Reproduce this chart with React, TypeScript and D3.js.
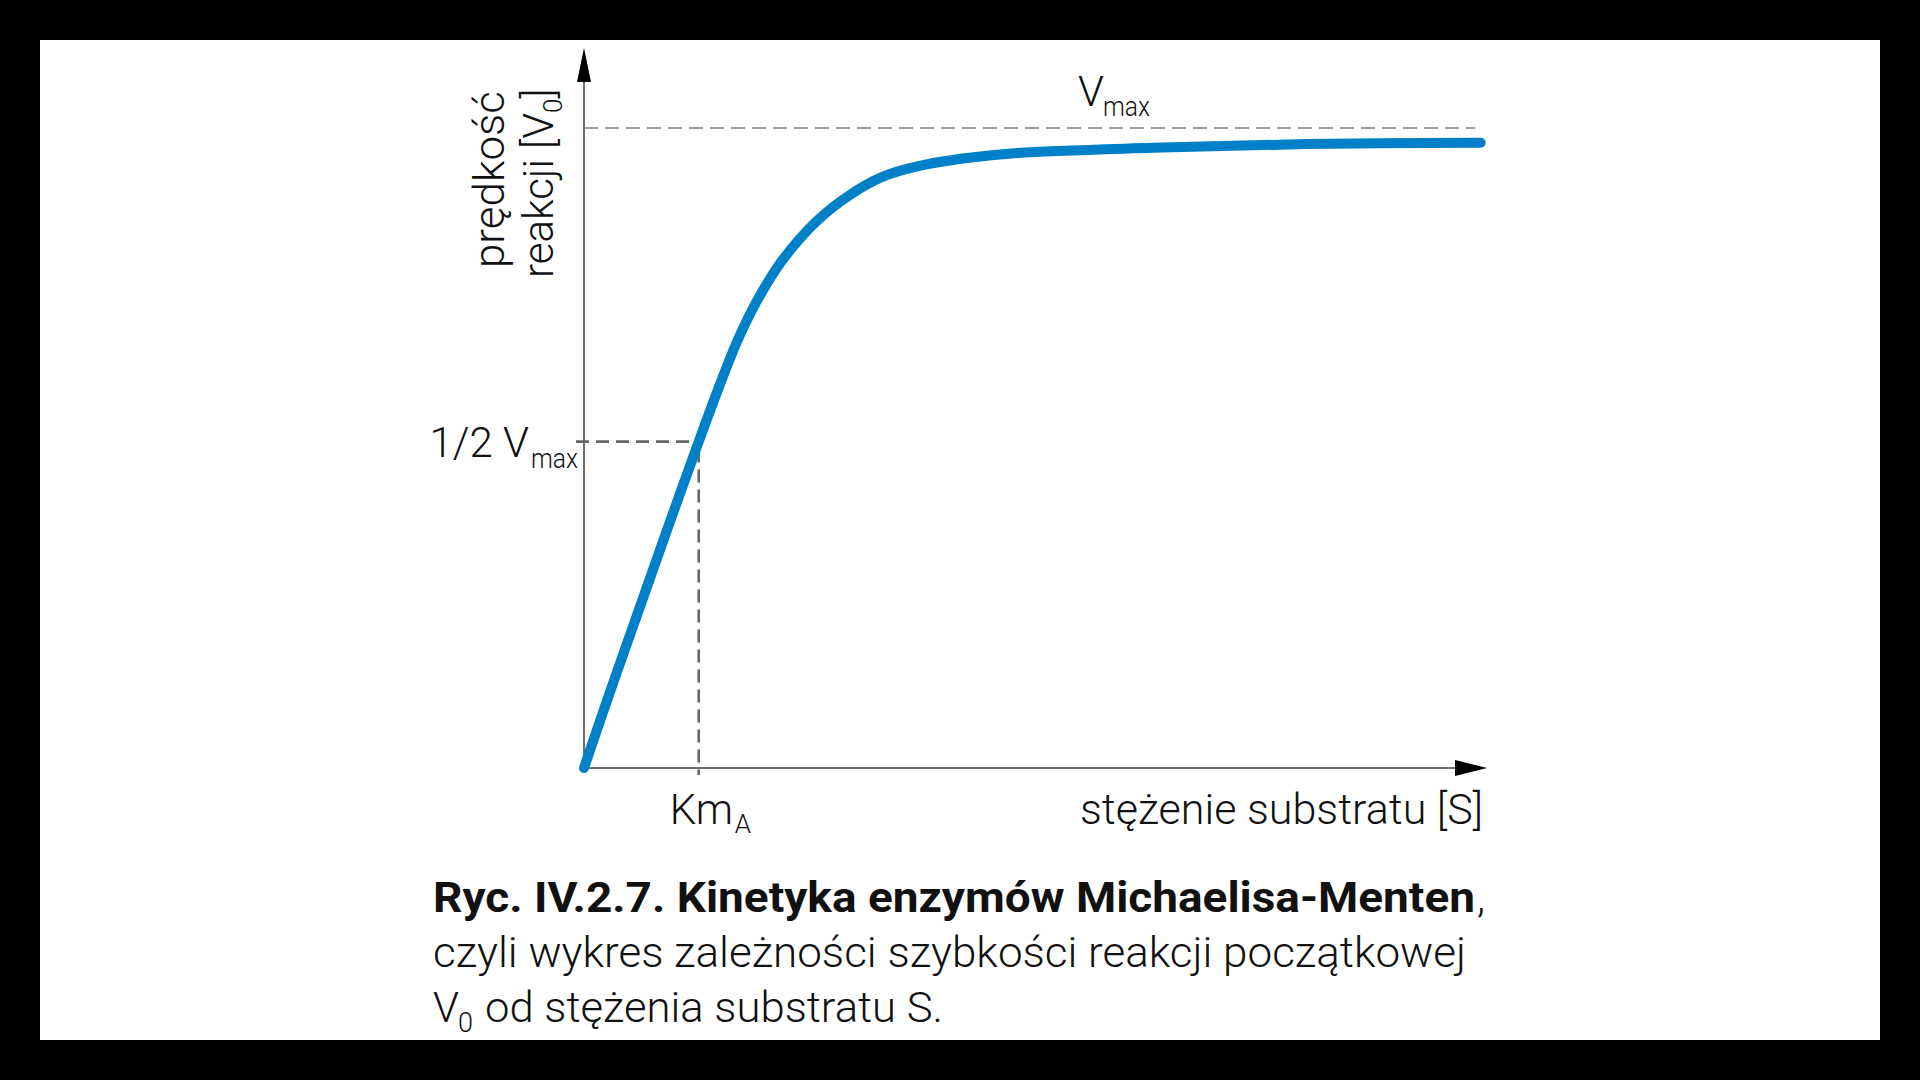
import React from "react";
import * as d3 from "d3";

// Substrate concentration [S] (arbitrary units, axis 0..100) and initial velocity V0 (fraction of Vmax)
const substrate = [0, 3.2, 6.2, 9.2, 12.5, 15.1, 17.1, 19.2, 22.0, 25.8, 29.5, 33.1, 36.9, 42.4, 48.0, 63.0, 80.0, 99.3];
const velocity = [0, 0.132, 0.252, 0.372, 0.502, 0.601, 0.671, 0.731, 0.794, 0.855, 0.896, 0.924, 0.940, 0.953, 0.961, 0.969, 0.975, 0.977];

// Reference markers
const vmaxLevel = 1.0;
const halfVmaxLevel = 0.51;
const kmValue = 12.7;
const vmaxLineEnd = 98.7;

// Texts
const yLabelLines = ["prędkość", "reakcji [V"];
const xLabel = "stężenie substratu [S]";
const captionBold = "Ryc. IV.2.7. Kinetyka enzymów Michaelisa-Menten";
const captionLine2 = "czyli wykres zależności szybkości reakcji początkowej";
const captionLine3 = "od stężenia substratu S.";

const W = 1920;
const H = 1080;
const FONT = "'Roboto', 'Noto Sans', 'DejaVu Sans', sans-serif";

export default function App() {
  const x = d3.scaleLinear().domain([0, 100]).range([584, 1487]);
  const y = d3.scaleLinear().domain([0, 1]).range([768, 128]);

  const pts = substrate.map((s, i) => [s, velocity[i]] as [number, number]);
  const line = d3
    .line<[number, number]>()
    .x((d) => x(d[0]))
    .y((d) => y(d[1]))
    .curve(d3.curveCatmullRom.alpha(0.5));

  const x0 = x(0);
  const y0 = y(0);
  const xEnd = x(100);
  const yTop = 48;
  const axisColor = "#6e6e6e";

  return (
    <svg
      width={W}
      height={H}
      viewBox={`0 0 ${W} ${H}`}
      style={{ position: "absolute", left: 0, top: 0, display: "block" }}
    >
      <rect x={0} y={0} width={W} height={H} fill="#000" />
      <rect x={40} y={40} width={1840} height={1000} fill="#fff" />

      {/* Vmax dashed line */}
      <line
        x1={x0}
        x2={x(vmaxLineEnd)}
        y1={y(vmaxLevel)}
        y2={y(vmaxLevel)}
        stroke="#9c9c9c"
        strokeWidth={2}
        strokeDasharray="14 7"
      />

      {/* axes */}
      <line x1={x0} x2={xEnd - 30} y1={y0} y2={y0} stroke={axisColor} strokeWidth={2} />
      <path d={`M${xEnd},${y0} L${xEnd - 32},${y0 - 8} L${xEnd - 32},${y0 + 8} Z`} fill="#000" />
      <line x1={x0} x2={x0} y1={y0} y2={yTop + 30} stroke={axisColor} strokeWidth={2} />
      <path d={`M${x0},${yTop} L${x0 - 7},${yTop + 34} L${x0 + 7},${yTop + 34} Z`} fill="#000" />

      {/* half Vmax and Km guides */}
      <line
        x1={x0 - 8}
        x2={x(kmValue)}
        y1={y(halfVmaxLevel)}
        y2={y(halfVmaxLevel)}
        stroke="#666"
        strokeWidth={2.6}
        strokeDasharray="13 7"
      />
      <line
        x1={x(kmValue)}
        x2={x(kmValue)}
        y1={y(halfVmaxLevel) + 8}
        y2={y0 + 7}
        stroke="#666"
        strokeWidth={2.6}
        strokeDasharray="13 7"
      />

      {/* curve */}
      <path
        d={line(pts) || ""}
        fill="none"
        stroke="#0080c8"
        strokeWidth={10}
        strokeLinecap="round"
        strokeLinejoin="round"
      />

      {/* Vmax label */}
      <g fontFamily={FONT} fontWeight={300} fill="#111">
        <text x={1078} y={y(vmaxLevel) - 22} fontSize={42}>V</text>
        <text x={1103} y={y(vmaxLevel) - 12} fontSize={27} textLength={47} lengthAdjust="spacingAndGlyphs">max</text>

        {/* 1/2 Vmax label */}
        <text x={529} y={y(halfVmaxLevel) + 15} fontSize={42} textAnchor="end">1/2 V</text>
        <text x={531} y={y(halfVmaxLevel) + 26} fontSize={27} textLength={47} lengthAdjust="spacingAndGlyphs">max</text>

        {/* Km label */}
        <text x={x(kmValue) - 29} y={y0 + 56} fontSize={42}>Km</text>
        <text x={x(kmValue) + 36} y={y0 + 65} fontSize={26}>A</text>

        {/* x label */}
        <text x={1080} y={y0 + 56} fontSize={42} textLength={403} lengthAdjust="spacingAndGlyphs">{xLabel}</text>

        {/* y label */}
        <g transform="rotate(-90)">
          <text x={-268} y={504} fontSize={42} textLength={177} lengthAdjust="spacingAndGlyphs">{yLabelLines[0]}</text>
          <text x={-278} y={553} fontSize={42}>
            {yLabelLines[1]}
            <tspan dy={9} fontSize={26}>0</tspan>
            <tspan dy={-9}>]</tspan>
          </text>
        </g>
      </g>

      {/* caption */}
      <g fontFamily={FONT} fill="#111">
        <text x={433} y={912} fontSize={42} fontWeight={700} textLength={1042} lengthAdjust="spacingAndGlyphs">{captionBold}</text>
        <text x={1477} y={912} fontSize={42} fontWeight={300}>,</text>
        <text x={433} y={967} fontSize={42} fontWeight={300} textLength={1033} lengthAdjust="spacingAndGlyphs">{captionLine2}</text>
        <text x={433} y={1022} fontSize={42} fontWeight={300}>V</text>
        <text x={458} y={1032} fontSize={27} fontWeight={300}>0</text>
        <text x={485} y={1022} fontSize={42} fontWeight={300} textLength={458} lengthAdjust="spacingAndGlyphs">{captionLine3}</text>
      </g>
    </svg>
  );
}
